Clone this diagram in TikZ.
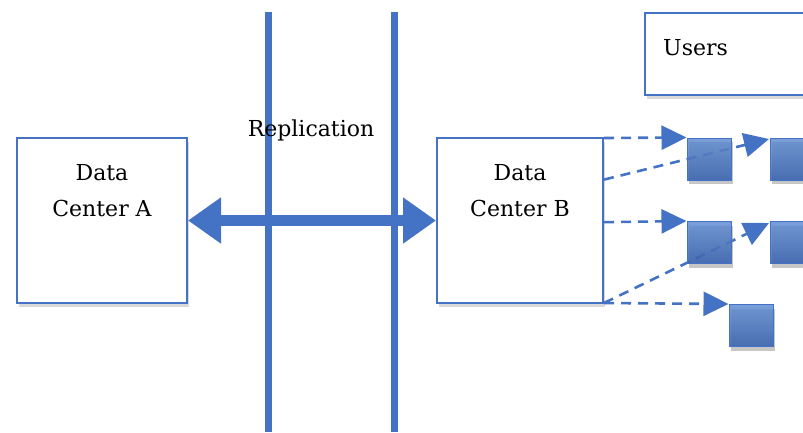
\documentclass[tikz,border=0pt]{standalone}
\usepackage{fontspec}
\setmainfont{DejaVu Serif}
\usepackage{tikz}
\usetikzlibrary{arrows.meta,shadows,calc}
\definecolor{linkblue}{RGB}{68,114,196}
\definecolor{cubetop}{RGB}{98,142,210}
\definecolor{cubebot}{RGB}{50,94,174}

\begin{document}
\begin{tikzpicture}[x=1pt, y=-1pt,
    site/.style={draw=linkblue, line width=2pt, fill=white, inner sep=0pt,
        drop shadow={shadow xshift=2pt, shadow yshift=-4pt, opacity=.3}},
    caption/.style={font=\fontsize{22}{36}\selectfont, align=center, inner sep=0pt},
    cube/.style={draw=linkblue, line width=1pt, top color=cubetop, bottom color=cubebot,
        fill opacity=.85, minimum width=44pt, minimum height=42pt, inner sep=0pt,
        drop shadow={shadow xshift=2pt, shadow yshift=-4pt, opacity=.45}},
    feed/.style={linkblue, line width=2.6pt, dash pattern=on 10pt off 7pt,
        -{Triangle[length=25pt, width=24pt]}}]
    \useasboundingbox (0,0) rectangle (803,432);
    \clip (0,0) rectangle (803,432);

    % sites
    \node[site, minimum width=170pt, minimum height=165pt] (dcA) at (102,220.5) {};
    \node[caption] (dcAtext) at (102,191) {Data\\Center A};
    \node[site, minimum width=166pt, minimum height=165pt] (dcB) at (520,220.5) {};
    \node[caption] (dcBtext) at (520,191) {Data\\Center B};
    \node[site, minimum width=166pt, minimum height=82pt] (users) at (728,54) {};
    \node[caption, anchor=west] (userstext) at (663,48) {Users};

    % replication link
    \draw[linkblue, line width=11pt, {Triangle[length=33pt, width=44pt]}-{Triangle[length=33pt, width=44pt]}]
        (dcA.east) -- (dcB.west);
    \foreach \x in {268, 394} {
        \draw[linkblue, line width=7pt] (\x,12) -- (\x,432);
    }
    \node[caption] (repl) at (311,130) {Replication};

    % feeds to users
    \coordinate (b1) at ([yshift=-1pt]dcB.north east);
    \coordinate (b2) at ($(dcB.north east)!0.255!(dcB.south east)$);
    \coordinate (b3) at ($(dcB.north east)!0.51!(dcB.south east)$);
    \coordinate (b4) at ([yshift=1pt]dcB.south east);
    \coordinate (c2in) at (769,139);
    \coordinate (c4in) at (769,223);

    \draw[feed] (b2) -- (c2in);
    \draw[feed] (b4) -- (c4in);

    % user clients
    \node[cube] (c1) at (709,159) {};
    \node[cube] (c2) at (792,159) {};
    \node[cube] (c3) at (709,242.5) {};
    \node[cube] (c4) at (792,242.5) {};
    \node[cube] (c5) at (751,325.5) {};

    \draw[feed] (b1) -- (c1.north west);
    \draw[feed] (b3) -- (c3.north west);
    \draw[feed] (b4) -- (c5.north west);
\end{tikzpicture}
\end{document}
